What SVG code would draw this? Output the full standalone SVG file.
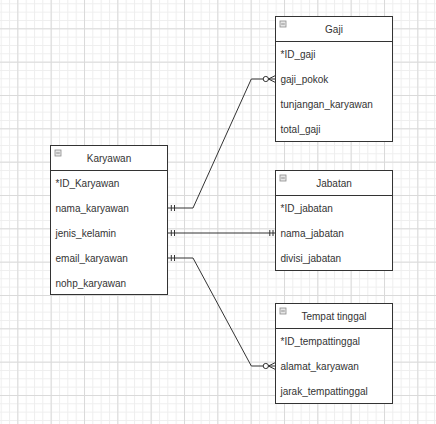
<svg xmlns="http://www.w3.org/2000/svg" width="436" height="424" viewBox="0 0 436 424">
<style>
.box{fill:#ffffff;stroke:#333333;stroke-width:1}
.sep{stroke:#333333;stroke-width:1}
.t{font-family:"Liberation Sans",Arial,sans-serif;font-size:10px;fill:#333333}
.h{text-anchor:middle}
.icon{fill:#e6e6e6;stroke:#8c8c8c;stroke-width:0.8}
.conn{fill:none;stroke:#333333;stroke-width:1}
</style>
<defs>
<pattern id="minor" patternUnits="userSpaceOnUse" x="0.667" y="3.333" width="8.333" height="8.333">
<path d="M0,0.5H8.333M0.5,0V8.333" fill="none" stroke="#eeeeee" stroke-width="1"/>
</pattern>
<pattern id="major" patternUnits="userSpaceOnUse" x="17.333" y="28.333" width="33.333" height="33.333">
<path d="M0,0.5H33.333M0.5,0V33.333" fill="none" stroke="#dadada" stroke-width="1"/>
</pattern>
<g id="icon"><rect class="icon" x="0" y="0" width="6" height="6"/><path d="M1.2,3H4.8" stroke="#777777" stroke-width="0.8"/></g>
</defs>
<rect width="436" height="424" fill="#ffffff"/>
<rect width="436" height="424" fill="url(#minor)"/>
<rect width="436" height="424" fill="url(#major)"/>

<g id="connectors">
<path class="conn" d="M167.5,208H193L251.3,79H268.5"/>
<path class="conn" d="M171.3,205V211M174.5,205V211"/>
<circle class="conn" cx="265.8" cy="79" r="2.6" fill="#ffffff" style="fill:#ffffff"/>
<path class="conn" d="M268.4,79L275.5,75.5M268.4,79H275.5M268.4,79L275.5,82.5"/>

<path class="conn" d="M167.5,233H275.5"/>
<path class="conn" d="M171.3,230V236M174.5,230V236M269.8,230V236M273,230V236"/>

<path class="conn" d="M167.5,258H193L251.3,366H268.5"/>
<path class="conn" d="M171.3,255V261M174.5,255V261"/>
<circle class="conn" cx="265.8" cy="366" r="2.6" style="fill:#ffffff"/>
<path class="conn" d="M268.4,366L275.5,362.5M268.4,366H275.5M268.4,366L275.5,369.5"/>
</g>

<g id="karyawan">
<rect class="box" x="50.5" y="145.5" width="117" height="149"/>
<path class="sep" d="M50.5,170.5H167.5"/>
<use href="#icon" x="55" y="150"/>
<text class="t h" x="109" y="161.5">Karyawan</text>
<text class="t" x="55.5" y="186.5">*ID_Karyawan</text>
<text class="t" x="55.5" y="211.5">nama_karyawan</text>
<text class="t" x="55.5" y="236.5">jenis_kelamin</text>
<text class="t" x="55.5" y="261.5">email_karyawan</text>
<text class="t" x="55.5" y="286.5">nohp_karyawan</text>
</g>

<g id="gaji">
<rect class="box" x="275.5" y="16.5" width="117" height="125"/>
<path class="sep" d="M275.5,41.5H392.5"/>
<use href="#icon" x="280" y="21"/>
<text class="t h" x="334" y="32.5">Gaji</text>
<text class="t" x="280.5" y="57.5">*ID_gaji</text>
<text class="t" x="280.5" y="82.5">gaji_pokok</text>
<text class="t" x="280.5" y="107.5">tunjangan_karyawan</text>
<text class="t" x="280.5" y="132.5">total_gaji</text>
</g>

<g id="jabatan">
<rect class="box" x="275.5" y="170.5" width="117" height="100"/>
<path class="sep" d="M275.5,195.5H392.5"/>
<use href="#icon" x="280" y="175"/>
<text class="t h" x="334" y="186.5">Jabatan</text>
<text class="t" x="280.5" y="211.5">*ID_jabatan</text>
<text class="t" x="280.5" y="236.5">nama_jabatan</text>
<text class="t" x="280.5" y="261.5">divisi_jabatan</text>
</g>

<g id="tempat-tinggal">
<rect class="box" x="275.5" y="303.5" width="117" height="100"/>
<path class="sep" d="M275.5,328.5H392.5"/>
<use href="#icon" x="280" y="308"/>
<text class="t h" x="334" y="319.5">Tempat tinggal</text>
<text class="t" x="280.5" y="344.5">*ID_tempattinggal</text>
<text class="t" x="280.5" y="369.5">alamat_karyawan</text>
<text class="t" x="280.5" y="394.5">jarak_tempattinggal</text>
</g>
</svg>
